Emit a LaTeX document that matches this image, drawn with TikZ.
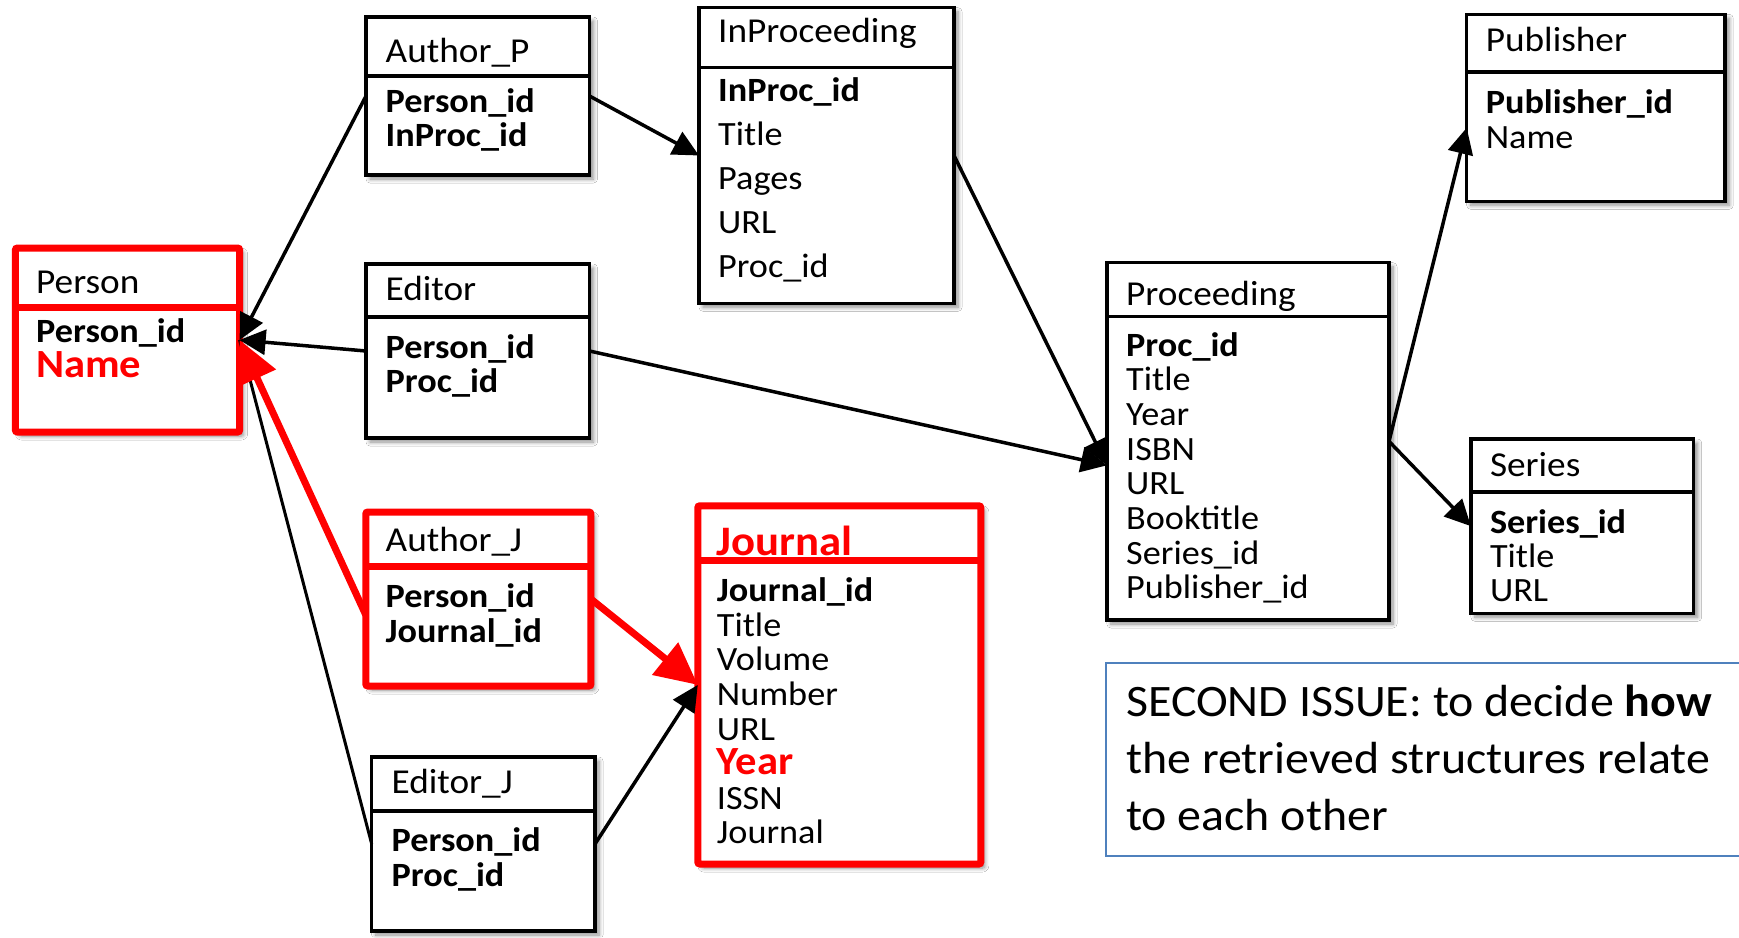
\documentclass[tikz,border=0pt]{standalone}
\usepackage{fontspec}
\setmainfont{Carlito}[FakeStretch=1.065]
\usetikzlibrary{arrows.meta,shadows.blur,calc}
\definecolor{boxred}{RGB}{255,0,0}
\definecolor{noteblue}{RGB}{79,129,189}
\tikzset{
  tbl/.style={draw=black, line width=3.5pt, fill=white, inner sep=0pt, outer sep=0pt,
    anchor=north west,
    blur shadow={shadow xshift=4pt, shadow yshift=-4pt, shadow blur radius=4pt,
      shadow blur steps=6, shadow opacity=45}},
  redtbl/.style={tbl, draw=boxred, line width=7pt, rounded corners=2pt},
  divider/.style={draw=black, line width=3.5pt},
  reddivider/.style={draw=boxred, line width=7pt},
  ttl/.style={anchor=base west, inner sep=0pt, text height=0.66em, text depth=0.18em,
    font=\fontsize{35}{40}\selectfont},
  att/.style={anchor=base west, inner sep=0pt, text height=0.66em, text depth=0.18em,
    font=\fontsize{34}{40}\selectfont},
  fklink/.style={draw=black, line width=3.5pt, -{Triangle[length=26pt,width=25pt]}},
  fkred/.style={draw=boxred, line width=7pt, -{Triangle[length=42pt,width=40pt]}},
  fkplain/.style={draw=black, line width=3pt},
  notetext/.style={anchor=base west, inner sep=0pt, text height=0.7em, text depth=0.2em,
    font=\fontsize{45}{54}\selectfont},
}
% highlighted field, set larger and in red
\newcommand\hotfield[1]{{\fontsize{40}{44}\selectfont\bfseries\color{boxred}#1}}
% rows of a table: name prefix, x, first baseline, line step, entries
\newcommand\tblrows[5]{%
  \foreach \txt [count=\i] in {#5} {
    \node[att] (#1-\i) at (#2, {#3+(\i-1)*#4}) {\txt};
  }%
}
\begin{document}
\begin{tikzpicture}[x=1pt, y=-1pt]
\clip (0,0) rectangle (1739,937);
\fill[white] (0,0) rectangle (1739,937);

% ---------- tables ----------
% Person
\node[redtbl, minimum width=224.2pt, minimum height=184pt] (person) at (15.4,248) {};
\draw[reddivider] (person.west |- 0,307) -- (person.east |- 0,307);
\node[ttl] (person-t) at (36,293) {Person};
\tblrows{person}{36}{342}{35}{\textbf{Person\_id}, \hotfield{Name}}

% Author_P
\node[tbl, minimum width=223.5pt, minimum height=158pt] (authp) at (366,17) {};
\draw[divider] (authp.west |- 0,76) -- (authp.east |- 0,76);
\node[ttl] (authp-t) at (385.5,62) {Author\_P};
\tblrows{authp}{385.5}{112}{34}{\textbf{Person\_id}, \textbf{InProc\_id}}

% Editor
\node[tbl, minimum width=223.5pt, minimum height=174pt] (editor) at (366,264) {};
\draw[divider] (editor.west |- 0,317) -- (editor.east |- 0,317);
\node[ttl] (editor-t) at (385.5,300) {Editor};
\tblrows{editor}{385.5}{358}{34}{\textbf{Person\_id}, \textbf{Proc\_id}}

% Author_J
\node[redtbl, minimum width=225.1pt, minimum height=174pt] (authj) at (365.8,512) {};
\draw[reddivider] (authj.west |- 0,566) -- (authj.east |- 0,566);
\node[ttl] (authj-t) at (385.5,551) {Author\_J};
\tblrows{authj}{385.5}{607}{35}{\textbf{Person\_id}, \textbf{Journal\_id}}

% Editor_J
\node[tbl, minimum width=223.3pt, minimum height=174pt] (editorj) at (371.7,757) {};
\draw[divider] (editorj.west |- 0,811) -- (editorj.east |- 0,811);
\node[ttl] (editorj-t) at (391.5,793) {Editor\_J};
\tblrows{editorj}{391.5}{851}{35}{\textbf{Person\_id}, \textbf{Proc\_id}}

% InProceeding
\node[tbl, minimum width=255pt, minimum height=295.6pt] (inproc) at (699,7.7) {};
\draw[divider] (inproc.west |- 0,67.3) -- (inproc.east |- 0,67.3);
\node[ttl] (inproc-t) at (718,42.7) {InProceeding};
\tblrows{inproc}{718}{101.7}{43.9}{\textbf{InProc\_id}, Title, Pages, URL, Proc\_id}

% Journal
\node[redtbl, minimum width=283pt, minimum height=358.2pt] (journal) at (697.8,505.8) {};
\draw[reddivider] (journal.west |- 0,560.8) -- (journal.east |- 0,560.8);
\node[anchor=base west, inner sep=0pt, text height=0.66em, text depth=0.1em,
  font=\fontsize{42}{46}\selectfont\bfseries, text=boxred]
  (journal-t) at (716.7,555) {Journal};
\tblrows{journal}{716.7}{601.7}{34.6}{\textbf{Journal\_id}, Title, Volume, Number, URL,
  \hotfield{Year}, ISSN, Journal}

% Proceeding
\node[tbl, minimum width=282.1pt, minimum height=357.3pt] (proc) at (1106.9,262.7) {};
\draw[divider] (proc.west |- 0,316.3) -- (proc.east |- 0,316.3);
\node[ttl] (proc-t) at (1126,305) {Proceeding};
\tblrows{proc}{1126}{356}{34.7}{\textbf{Proc\_id}, Title, Year, ISBN, URL, Booktitle,
  Series\_id, Publisher\_id}

% Publisher
\node[tbl, minimum width=258.5pt, minimum height=187pt] (pub) at (1466.7,14.3) {};
\draw[divider] (pub.west |- 0,72) -- (pub.east |- 0,72);
\node[ttl] (pub-t) at (1485.6,51.7) {Publisher};
\tblrows{pub}{1485.6}{113.3}{35}{\textbf{Publisher\_id}, Name}

% Series
\node[tbl, minimum width=222.8pt, minimum height=174.3pt] (series) at (1470.9,439) {};
\draw[divider] (series.west |- 0,492) -- (series.east |- 0,492);
\node[ttl] (series-t) at (1489.8,476.7) {Series};
\tblrows{series}{1489.8}{533.3}{34.2}{\textbf{Series\_id}, Title, URL}

% ---------- note ----------
\node[draw=noteblue, line width=2pt, anchor=north west, inner sep=0pt, outer sep=0pt,
  minimum width=700pt, minimum height=192.7pt] (note) at (1106,663.3) {};
\node[notetext] (note-1) at (1126,716.7) {SECOND ISSUE: to decide \textbf{how}};
\node[notetext] (note-2) at (1126,773.3) {the retrieved structures relate};
\node[notetext] (note-3) at (1126,830) {to each other};

% ---------- references ----------
\draw[fkplain] (editorj.west) -- (person.east);
\draw[fklink] (authp.west) -- (person.east);
\draw[fklink] (editor.west) -- (person.east);
\draw[fklink] (authp.east) -- (inproc.west);
\draw[fklink] (inproc.east) -- ($(proc.west)+(0,24)$);
\draw[fklink] (editor.east) -- ($(proc.west)+(0,24)$);
\draw[fklink] (proc.east) -- ($(pub.west)+(0,20)$);
\draw[fklink] (proc.east) -- (series.west);
\draw[fklink] (editorj.east) -- (journal.west);
\draw[fkred] (authj.east) -- (journal.west);
\draw[fkred] ($(authj.west)+(0,16)$) -- (person.east);
\end{tikzpicture}
\end{document}
